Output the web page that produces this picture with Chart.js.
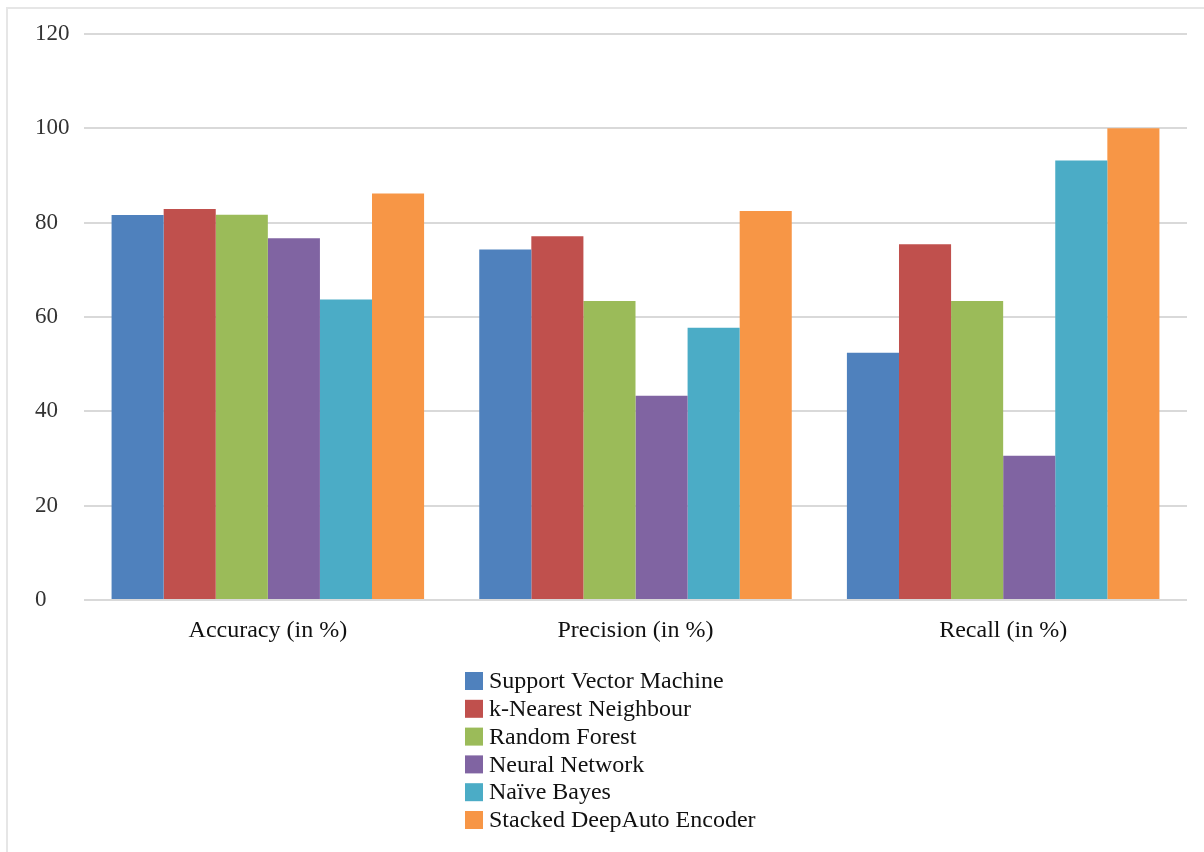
<!DOCTYPE html>
<html>
<head>
<meta charset="utf-8">
<script src="https://cdn.jsdelivr.net/npm/chart.js@4/dist/chart.umd.min.js"></script>
<style>
  html, body { margin: 0; padding: 0; background: #fff; overflow: hidden; }
  #wrap { position: relative; width: 1204px; height: 852px; overflow: hidden; }
  #frame { position: absolute; left: 6px; top: 7px; width: 1300px; height: 900px;
           border-top: 2px solid #e6e6e6; border-left: 2px solid #e6e6e6; }
  canvas { position: absolute; left: 0; top: 0; }
</style>
</head>
<body>
<div id="wrap">
  <div id="frame"></div>
  <canvas id="c" width="1204" height="852"></canvas>
</div>
<script>
const categories = ['Accuracy (in %)', 'Precision (in %)', 'Recall (in %)'];
const seriesNames = ['Support Vector Machine', 'k-Nearest Neighbour', 'Random Forest',
                     'Neural Network', 'Naïve Bayes', 'Stacked DeepAuto Encoder'];
const svm  = [81.6, 74.3, 52.4];
const knn  = [82.9, 77.1, 75.4];
const rf   = [81.7, 63.4, 63.4];
const nn   = [76.7, 43.3, 30.6];
const nb   = [63.7, 57.7, 93.2];
const sdae = [86.2, 82.5, 100];
const yTicks = [0, 20, 40, 60, 80, 100, 120];

const seriesValues = [svm, knn, rf, nn, nb, sdae];
const colors = ['#4F81BD', '#C0504D', '#9BBB59', '#8064A2', '#4BACC6', '#F79646'];
const FONT = '"Liberation Serif", "Times New Roman", serif';

const legendPlugin = {
  id: 'stackLegend',
  afterDraw(chart) {
    const ctx = chart.ctx;
    ctx.save();
    ctx.font = '24px ' + FONT;
    ctx.textBaseline = 'middle';
    ctx.textAlign = 'left';
    chart.data.datasets.forEach((ds, i) => {
      const cy = 681 + i * 27.8;
      ctx.fillStyle = ds.backgroundColor;
      ctx.fillRect(465, cy - 9, 18, 18);
      ctx.fillStyle = '#111';
      ctx.fillText(ds.label, 489, cy + 1);
    });
    ctx.restore();
  }
};

new Chart(document.getElementById('c'), {
  type: 'bar',
  data: {
    labels: categories,
    datasets: seriesNames.map((name, i) => ({
      label: name,
      data: seriesValues[i],
      backgroundColor: colors[i],
      borderWidth: 0,
      categoryPercentage: 0.85,
      barPercentage: 1.0
    }))
  },
  options: {
    responsive: false,
    animation: false,
    layout: { padding: { left: 35, right: 17, top: 34, bottom: 10 } },
    plugins: {
      legend: { display: false },
      tooltip: { enabled: false }
    },
    scales: {
      x: {
        grid: { display: false, drawTicks: false },
        border: { display: false },
        ticks: { color: '#111', font: { family: FONT, size: 24 }, padding: 16 },
        afterFit(scale) { scale.height = 242; }
      },
      y: {
        min: 0, max: 120,
        afterBuildTicks(scale) { scale.ticks = yTicks.map(v => ({ value: v })); },
        grid: { color: '#d9d9d9', lineWidth: 2, drawTicks: false },
        border: { display: false },
        ticks: { color: '#333', font: { family: FONT, size: 23 }, padding: 14, crossAlign: 'far' },
        afterFit(scale) { scale.width = 49; }
      }
    }
  },
  plugins: [legendPlugin]
});
</script>
</body>
</html>
